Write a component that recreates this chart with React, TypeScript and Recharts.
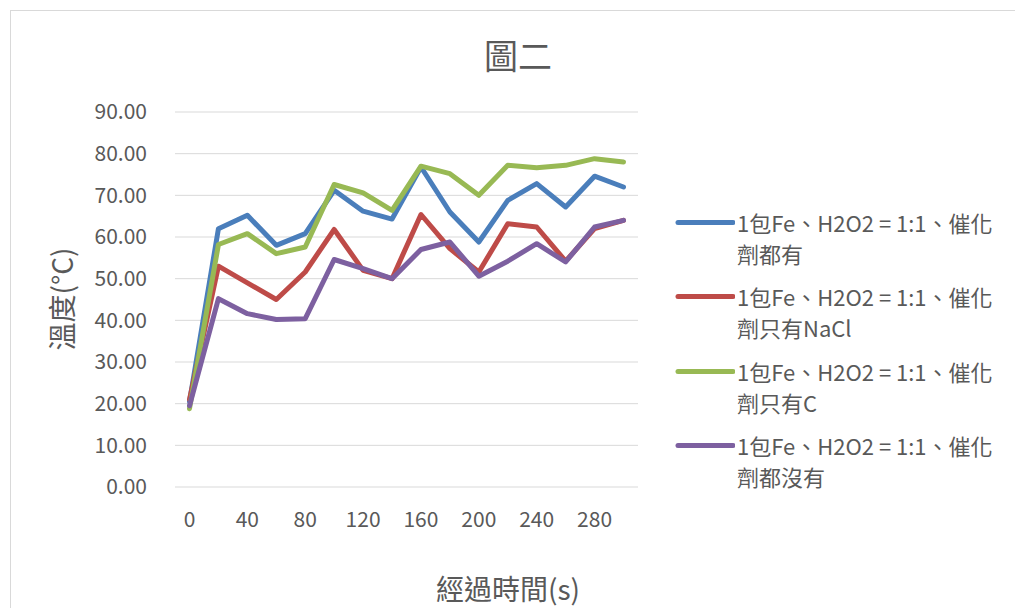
import React from 'react';
import { LineChart, Line, XAxis, YAxis, CartesianGrid, Legend } from 'recharts';

// elapsed time (s)
const times = [0, 20, 40, 60, 80, 100, 120, 140, 160, 180, 200, 220, 240, 260, 280, 300];

// temperature readings (°C) per catalyst setup
const bothCatalysts = [20.5, 62.0, 65.2, 58.0, 60.8, 71.2, 66.2, 64.3, 76.8, 66.0, 58.8, 68.8, 72.8, 67.2, 74.6, 72.0];
const naclOnly = [21.0, 53.0, 49.0, 45.0, 51.6, 61.8, 52.0, 50.0, 65.4, 57.2, 51.6, 63.2, 62.4, 54.2, 62.0, 64.0];
const carbonOnly = [18.8, 58.2, 60.8, 56.0, 57.6, 72.6, 70.6, 66.4, 77.0, 75.2, 70.0, 77.2, 76.6, 77.2, 78.8, 78.0];
const noCatalyst = [19.5, 45.2, 41.6, 40.2, 40.4, 54.6, 52.4, 50.0, 57.0, 58.8, 50.6, 54.2, 58.4, 54.0, 62.4, 64.0];

const seriesNames = [
  '1包Fe、H2O2 = 1:1、催化劑都有',
  '1包Fe、H2O2 = 1:1、催化劑只有NaCl',
  '1包Fe、H2O2 = 1:1、催化劑只有C',
  '1包Fe、H2O2 = 1:1、催化劑都沒有',
];
const seriesColors = ['#4A7EBB', '#BE4B48', '#98B954', '#7D60A0'];
const seriesValues = [bothCatalysts, naclOnly, carbonOnly, noCatalyst];

const yTicks = [0, 10, 20, 30, 40, 50, 60, 70, 80, 90];

const data = times.map((t, i) => {
  const row: Record<string, number> = { time: t };
  seriesValues.forEach((vals, s) => {
    row[`s${s}`] = vals[i];
  });
  return row;
});

const textColor = '#595959';
const font = '"Noto Sans CJK TC", "Noto Sans", sans-serif';

const renderLegend = (props: any) => {
  const { payload } = props;
  // keep series order rather than alphabetical
  const items = [...payload].sort(
    (a: any, b: any) => seriesNames.indexOf(a.value) - seriesNames.indexOf(b.value)
  );
  return (
    <div style={{ display: 'flex', flexDirection: 'column' }}>
      {items.map((item: any) => {
        const name: string = item.value;
        const cut = name.indexOf('催化') + 2;
        return (
          <div key={name} style={{ display: 'flex', alignItems: 'flex-start', height: 74.5 }}>
            <svg width={60} height={31} style={{ flex: 'none' }}>
              <line x1={3} x2={58} y1={15.5} y2={15.5} stroke={item.color} strokeWidth={5} strokeLinecap="round" />
            </svg>
            <div style={{ fontSize: 22, lineHeight: '31px', color: textColor, marginLeft: 2, whiteSpace: 'nowrap' }}>
              {name.slice(0, cut)}
              <br />
              {name.slice(cut)}
            </div>
          </div>
        );
      })}
    </div>
  );
};

const App: React.FC = () => {
  return (
    <div
      style={{
        position: 'fixed',
        left: 0,
        top: 0,
        width: 1015,
        height: 608,
        overflow: 'hidden',
        background: '#fff',
        fontFamily: font,
      }}
    >
      <div
        style={{
          position: 'absolute',
          left: 10,
          top: 10,
          width: 1040,
          height: 640,
          border: '1px solid #d9d9d9',
          boxSizing: 'border-box',
        }}
      />
      <div
        style={{
          position: 'absolute',
          left: 418,
          width: 200,
          top: 32,
          textAlign: 'center',
          fontSize: 34,
          lineHeight: '46px',
          color: textColor,
        }}
      >
        圖二
      </div>
      <div style={{ position: 'absolute', left: 0, top: 0 }}>
        <LineChart width={1015} height={608} data={data} margin={{ top: 112, right: 377, bottom: 0, left: 0 }}>
          <CartesianGrid vertical={false} stroke="#d9d9d9" strokeWidth={1} />
          <XAxis
            dataKey="time"
            interval={1}
            axisLine={false}
            tickLine={false}
            tickSize={0}
            tickMargin={25}
            height={121}
            padding={{ left: 14.5, right: 14.5 }}
            tick={{ fill: textColor, fontSize: 21 }}
            label={{
              content: () => (
                <text x={508} y={588} textAnchor="middle" dominantBaseline="central" fill={textColor} fontSize={28}>
                  經過時間(s)
                </text>
              ),
            }}
          />
          <YAxis
            type="number"
            domain={[0, 90]}
            ticks={yTicks}
            interval={0}
            width={175}
            axisLine={false}
            tickLine={false}
            tickSize={0}
            tickMargin={28}
            tickFormatter={(v: number) => v.toFixed(2)}
            tick={{ fill: textColor, fontSize: 21 }}
            label={{
              content: () => (
                <text
                  x={61}
                  y={299}
                  transform="rotate(-90 61 299)"
                  textAnchor="middle"
                  dominantBaseline="central"
                  fill={textColor}
                  fontSize={28}
                >
                  溫度(°C)
                </text>
              ),
            }}
          />
          <Legend
            layout="vertical"
            align="center"
            verticalAlign="middle"
            content={renderLegend}
            wrapperStyle={{ left: 675, top: 206.5, width: 340 }}
          />
          {seriesNames.map((name, s) => (
            <Line
              key={name}
              type="linear"
              dataKey={`s${s}`}
              name={name}
              stroke={seriesColors[s]}
              strokeWidth={5}
              strokeLinejoin="round"
              strokeLinecap="round"
              dot={false}
              activeDot={false}
              isAnimationActive={false}
            />
          ))}
        </LineChart>
      </div>
    </div>
  );
};

export default App;
